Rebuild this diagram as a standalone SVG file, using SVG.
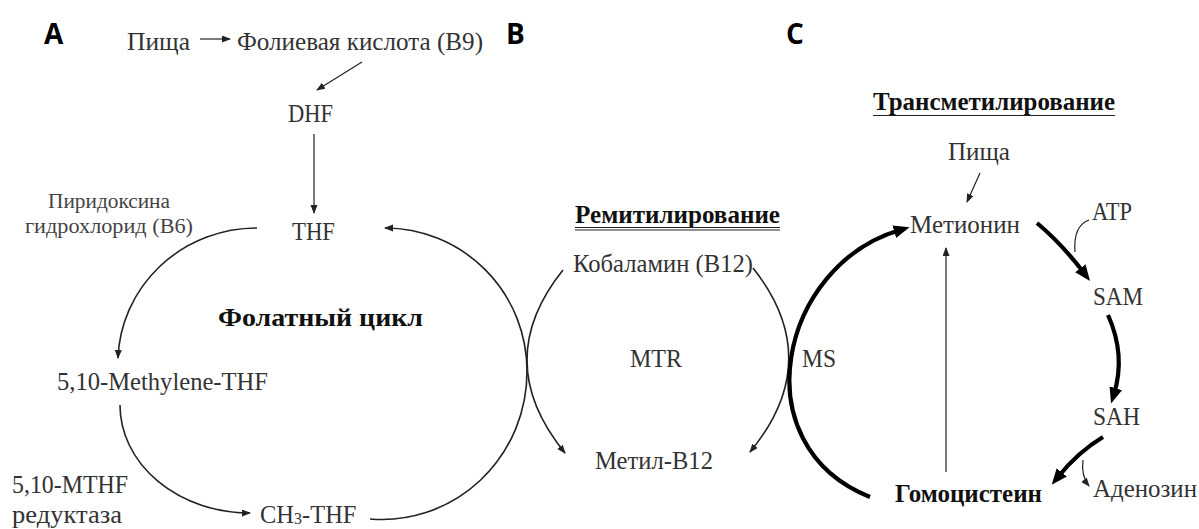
<svg xmlns="http://www.w3.org/2000/svg" width="1199" height="529" viewBox="0 0 1199 529">
<style>
  .t { font-family: "Liberation Serif", "DejaVu Serif", serif; font-size: 24.5px; fill: #333; }
  .s { font-family: "Liberation Serif", "DejaVu Serif", serif; font-size: 20px; fill: #444; }
  .b { font-family: "Liberation Serif", "DejaVu Serif", serif; font-size: 25px; font-weight: bold; fill: #111; }
  .L { font-family: "Open Sans", "Liberation Sans", sans-serif; font-size: 28px; font-weight: bold; fill: #000; }
  .thin { fill: none; stroke: #222; stroke-width: 1.2; }
  .mid { fill: none; stroke: #222; stroke-width: 1.6; }
  .thick { fill: none; stroke: #000; stroke-width: 4.2; }
  .ul { stroke: #222; stroke-width: 1.2; }
</style>
<defs>
  <marker id="ah" markerUnits="userSpaceOnUse" markerWidth="10" markerHeight="8" refX="8" refY="3.5" orient="auto">
    <path d="M0,0 L9,3.5 L0,7 z" fill="#222"/>
  </marker>
  <marker id="ahT" markerUnits="userSpaceOnUse" markerWidth="18" markerHeight="14" refX="6" refY="6.5" orient="auto">
    <path d="M0,0 L16,6.5 L0,13 z" fill="#000"/>
  </marker>
</defs>

<g id="labels">
  <text class="L" x="44" y="44">A</text>
  <text class="L" x="506" y="44">B</text>
  <text class="L" x="786" y="44">C</text>
</g>

<g id="connectors">
  <line class="thin" x1="200" y1="39" x2="230" y2="39" marker-end="url(#ah)"/>
  <line class="thin" x1="362" y1="62" x2="317" y2="90" marker-end="url(#ah)"/>
  <line class="thin" x1="314" y1="134" x2="314" y2="213" marker-end="url(#ah)"/>
  <path class="mid" d="M 257 228 A 139 135 0 0 0 118 358" marker-end="url(#ah)"/>
  <path class="mid" d="M 120 405 A 130 108 0 0 0 250 513" marker-end="url(#ah)"/>
  <path class="mid" d="M 370 519 A 145 148 0 0 0 527 371 A 142 143 0 0 0 385 228" marker-end="url(#ah)"/>
  <path class="mid" d="M 563 270 Q 490 361 565 453" marker-end="url(#ah)"/>
  <path class="mid" d="M 753 268 Q 826 360 750 452" marker-end="url(#ah)"/>
  <path class="thick" d="M 870 497 C 740 445 780 265 900 230" marker-end="url(#ahT)"/>
  <path class="thick" d="M 1037 223 Q 1062 244 1084 273" marker-end="url(#ahT)"/>
  <path class="thin" d="M 1089 220 Q 1073 226 1075 252"/>
  <path class="thick" d="M 1108 315 Q 1126 355 1114 394" marker-end="url(#ahT)"/>
  <path class="thick" d="M 1103 437 Q 1078 452 1058 477" marker-end="url(#ahT)"/>
  <path class="thin" d="M 1083 460 Q 1081 476 1089 486" marker-end="url(#ah)"/>
  <line class="thin" x1="946" y1="472" x2="946" y2="248" marker-end="url(#ah)"/>
  <line class="thin" x1="980" y1="173" x2="967" y2="202" marker-end="url(#ah)"/>
</g>

<g id="node-food-a"><text class="t" x="127" y="50" textLength="63" lengthAdjust="spacingAndGlyphs">Пища</text></g>
<g id="node-folic"><text class="t" x="237" y="50" textLength="246" lengthAdjust="spacingAndGlyphs">Фолиевая кислота (B9)</text></g>
<g id="node-dhf"><text class="t" x="288" y="122" textLength="45" lengthAdjust="spacingAndGlyphs">DHF</text></g>
<g id="node-thf"><text class="t" x="292" y="240" textLength="43" lengthAdjust="spacingAndGlyphs">THF</text></g>
<g id="node-b6">
  <text class="s" x="48" y="208" textLength="122" lengthAdjust="spacingAndGlyphs">Пиридоксина</text>
  <text class="s" x="25" y="233" textLength="168" lengthAdjust="spacingAndGlyphs">гидрохлорид (B6)</text>
</g>
<g id="node-folate-cycle"><text class="b" x="218" y="326" textLength="205" lengthAdjust="spacingAndGlyphs">Фолатный цикл</text></g>
<g id="node-methylene"><text class="t" x="57" y="390" textLength="211" lengthAdjust="spacingAndGlyphs">5,10-Methylene-THF</text></g>
<g id="node-mthfr">
  <text class="t" x="12" y="493" textLength="116" lengthAdjust="spacingAndGlyphs">5,10-MTHF</text>
  <text class="t" x="12" y="523" textLength="110" lengthAdjust="spacingAndGlyphs">редуктаза</text>
</g>
<g id="node-ch3thf"><text class="t" x="260" y="523">CH<tspan font-size="16" dy="1">3</tspan><tspan dy="-1">-THF</tspan></text></g>
<g id="node-remethylation">
  <text class="b" x="575" y="223" textLength="205" lengthAdjust="spacingAndGlyphs">Ремитилирование</text>
  <line class="ul" x1="575" y1="227.5" x2="780" y2="227.5"/>
  <line class="ul" x1="575" y1="230" x2="780" y2="230"/>
</g>
<g id="node-cobalamin"><text class="t" x="573" y="272" textLength="180" lengthAdjust="spacingAndGlyphs">Кобаламин (B12)</text></g>
<g id="node-mtr"><text class="t" x="630" y="367" textLength="52" lengthAdjust="spacingAndGlyphs">MTR</text></g>
<g id="node-methyl-b12"><text class="t" x="595" y="469" textLength="118" lengthAdjust="spacingAndGlyphs">Метил-B12</text></g>
<g id="node-ms"><text class="t" x="802" y="367" textLength="34" lengthAdjust="spacingAndGlyphs">MS</text></g>
<g id="node-transmethylation">
  <text class="b" x="873" y="110" textLength="242" lengthAdjust="spacingAndGlyphs">Трансметилирование</text>
  <line class="ul" x1="873" y1="115.5" x2="1115" y2="115.5"/>
</g>
<g id="node-food-c"><text class="t" x="948" y="160" textLength="62" lengthAdjust="spacingAndGlyphs">Пища</text></g>
<g id="node-methionine"><text class="t" x="910" y="233" textLength="110" lengthAdjust="spacingAndGlyphs">Метионин</text></g>
<g id="node-atp"><text class="t" x="1092" y="220" textLength="40" lengthAdjust="spacingAndGlyphs">ATP</text></g>
<g id="node-sam"><text class="t" x="1093" y="305" textLength="50" lengthAdjust="spacingAndGlyphs">SAM</text></g>
<g id="node-sah"><text class="t" x="1093" y="425" textLength="47" lengthAdjust="spacingAndGlyphs">SAH</text></g>
<g id="node-adenosine"><text class="t" x="1093" y="497" textLength="104" lengthAdjust="spacingAndGlyphs">Аденозин</text></g>
<g id="node-homocysteine"><text class="b" x="895" y="502" textLength="147" lengthAdjust="spacingAndGlyphs">Гомоцистеин</text></g>
</svg>
